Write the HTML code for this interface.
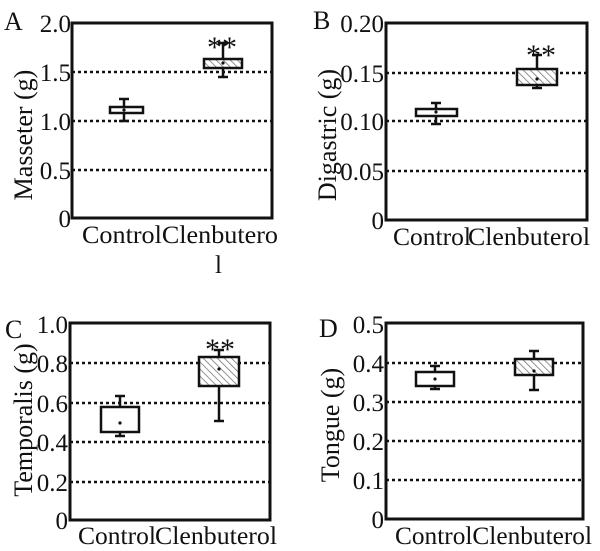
<!DOCTYPE html>
<html><head><meta charset="utf-8"><style>
html,body{margin:0;padding:0;background:#fff;}
svg{display:block;font-family:"Liberation Serif",serif;}
</style></head><body>
<svg width="600" height="551" viewBox="0 0 600 551" xmlns="http://www.w3.org/2000/svg">
<defs>
<pattern id="h" width="5" height="5" patternUnits="userSpaceOnUse" patternTransform="rotate(-45)">
<rect width="5" height="5" fill="#fff"/><line x1="0" y1="0" x2="0" y2="5" stroke="#777" stroke-width="1.6"/>
</pattern>
</defs>
<g fill="#111" font-size="25">
<!-- Panel A -->
<text x="4" y="30" font-size="26">A</text>
<g text-anchor="end"><text x="71" y="32">2.0</text><text x="71" y="81">1.5</text><text x="71" y="130">1.0</text><text x="71" y="179">0.5</text><text x="71" y="227">0</text></g>
<text transform="translate(32,135) rotate(-90)" text-anchor="middle" font-size="26">Masseter (g)</text>
<text x="82" y="243" textLength="196" lengthAdjust="spacingAndGlyphs">ControlClenbutero</text>
<text x="215" y="273">l</text>
<!-- Panel B -->
<text x="313" y="29" font-size="26">B</text>
<g text-anchor="end"><text x="384" y="32">0.20</text><text x="384" y="82">0.15</text><text x="384" y="130">0.10</text><text x="384" y="180">0.05</text><text x="384" y="229">0</text></g>
<text transform="translate(336,135) rotate(-90)" text-anchor="middle" font-size="26">Digastric (g)</text>
<text x="393" y="245" textLength="78" lengthAdjust="spacingAndGlyphs">Control</text>
<text x="468" y="245" textLength="122" lengthAdjust="spacingAndGlyphs">Clenbuterol</text>
<!-- Panel C -->
<text x="5" y="338" font-size="26">C</text>
<g text-anchor="end"><text x="68" y="333">1.0</text><text x="68" y="372">0.8</text><text x="68" y="412">0.6</text><text x="68" y="451">0.4</text><text x="68" y="491">0.2</text><text x="68" y="529">0</text></g>
<text transform="translate(32,420) rotate(-90)" text-anchor="middle" font-size="26">Temporalis (g)</text>
<text x="78" y="544" textLength="78" lengthAdjust="spacingAndGlyphs">Control</text>
<text x="155" y="544" textLength="122" lengthAdjust="spacingAndGlyphs">Clenbuterol</text>
<!-- Panel D -->
<text x="319" y="337" font-size="26">D</text>
<g text-anchor="end"><text x="384" y="333">0.5</text><text x="384" y="372">0.4</text><text x="384" y="411">0.3</text><text x="384" y="450">0.2</text><text x="384" y="489">0.1</text><text x="384" y="528">0</text></g>
<text transform="translate(339,425) rotate(-90)" text-anchor="middle" font-size="26">Tongue (g)</text>
<text x="395" y="544" textLength="197" lengthAdjust="spacingAndGlyphs">ControlClenbuterol</text>
<!-- stars -->
<g font-size="30" text-anchor="middle"><text x="222" y="57">**</text><text x="541" y="65">**</text><text x="220" y="359">**</text></g>
</g>

<g stroke="#111" fill="none">
<g stroke-width="2.5" stroke-dasharray="3 3">
<line x1="72" y1="72" x2="272" y2="72"/><line x1="72" y1="121" x2="272" y2="121"/><line x1="72" y1="170" x2="272" y2="170"/>
<line x1="386" y1="73" x2="587" y2="73"/><line x1="386" y1="121" x2="587" y2="121"/><line x1="386" y1="171" x2="587" y2="171"/>
<line x1="70" y1="363" x2="270" y2="363"/><line x1="70" y1="403" x2="270" y2="403"/><line x1="70" y1="442" x2="270" y2="442"/><line x1="70" y1="482" x2="270" y2="482"/>
<line x1="386" y1="363" x2="583" y2="363"/><line x1="386" y1="402" x2="583" y2="402"/><line x1="386" y1="441" x2="583" y2="441"/><line x1="386" y1="480" x2="583" y2="480"/>
</g>
<g stroke-width="3">
<rect x="72" y="23" width="200" height="195"/>
<rect x="386" y="23" width="201" height="197"/>
<rect x="70" y="323" width="200" height="197"/>
<rect x="386" y="323" width="197" height="196"/>
</g>
<g stroke-width="2.5">
<line x1="124" y1="99" x2="124" y2="121"/><line x1="119" y1="99" x2="129" y2="99"/><line x1="119" y1="121" x2="129" y2="121"/>
<line x1="223" y1="43" x2="223" y2="77"/><line x1="218" y1="43" x2="228" y2="43"/><line x1="218" y1="77" x2="228" y2="77"/>
<line x1="436" y1="103" x2="436" y2="124"/><line x1="431" y1="103" x2="441" y2="103"/><line x1="431" y1="124" x2="441" y2="124"/>
<line x1="537" y1="55" x2="537" y2="88"/><line x1="532" y1="55" x2="542" y2="55"/><line x1="532" y1="88" x2="542" y2="88"/>
<line x1="120" y1="396" x2="120" y2="436"/><line x1="115" y1="396" x2="125" y2="396"/><line x1="115" y1="436" x2="125" y2="436"/>
<line x1="219" y1="350" x2="219" y2="421"/><line x1="214" y1="350" x2="224" y2="350"/><line x1="214" y1="421" x2="224" y2="421"/>
<line x1="435" y1="366" x2="435" y2="389"/><line x1="430" y1="366" x2="440" y2="366"/><line x1="430" y1="389" x2="440" y2="389"/>
<line x1="534" y1="351" x2="534" y2="390"/><line x1="529" y1="351" x2="539" y2="351"/><line x1="529" y1="390" x2="539" y2="390"/>
</g>
<g stroke-width="2.5">
<rect x="110" y="107" width="33" height="6" fill="#fff"/>
<rect x="204" y="59" width="38" height="9" fill="url(#h)"/>
<rect x="416" y="109" width="41" height="7" fill="#fff"/>
<rect x="517" y="69" width="40" height="16" fill="url(#h)"/>
<rect x="101" y="407" width="38" height="25" fill="#fff"/>
<rect x="199" y="357" width="40" height="29" fill="url(#h)"/>
<rect x="416" y="372" width="38" height="14" fill="#fff"/>
<rect x="515" y="359" width="38" height="16" fill="url(#h)"/>
</g>
</g>
<g fill="#111">
<circle cx="124" cy="110" r="1.6"/><circle cx="223" cy="63" r="1.6"/><circle cx="436" cy="112" r="1.6"/><circle cx="537" cy="79" r="1.6"/>
<circle cx="120" cy="423" r="1.6"/><circle cx="219" cy="369" r="1.6"/><circle cx="435" cy="379" r="1.6"/><circle cx="534" cy="371" r="1.6"/>
</g>
</svg>
</body></html>
